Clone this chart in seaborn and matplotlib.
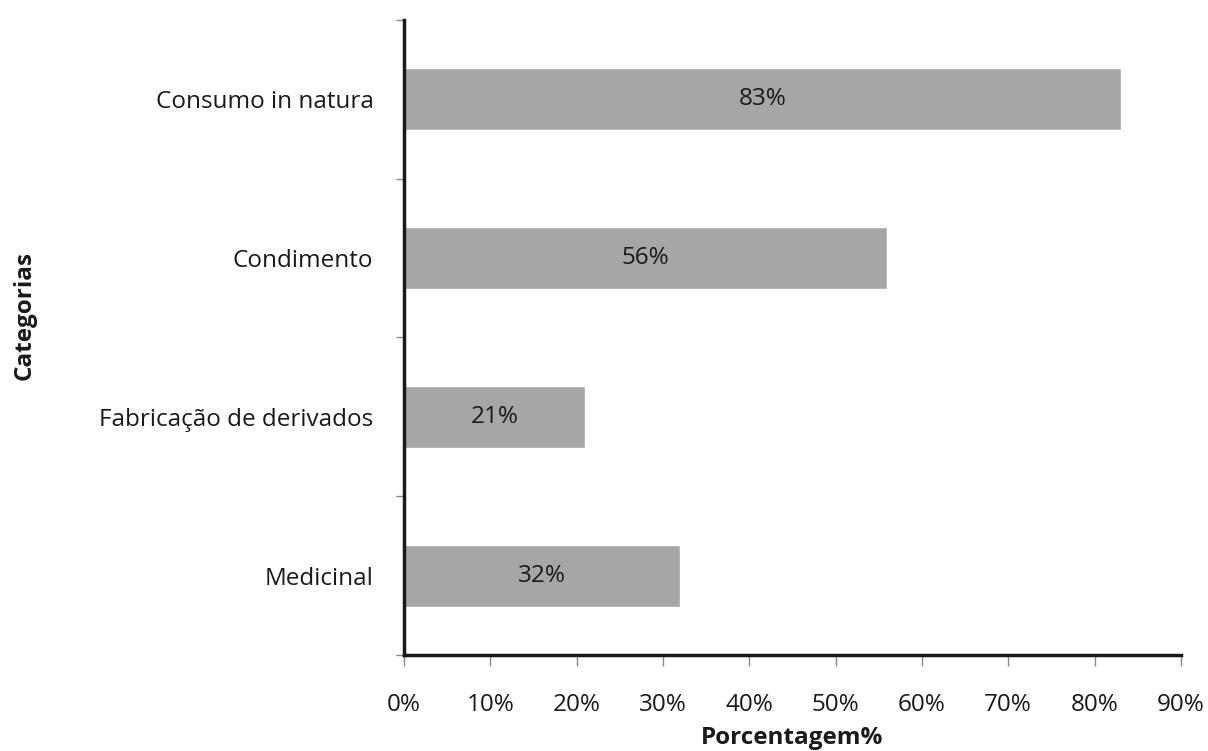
import pandas as pd
import seaborn as sns
import matplotlib.pyplot as plt
from matplotlib.ticker import FixedLocator, PercentFormatter

categorias = ["Consumo in natura", "Condimento", "Fabricação de derivados", "Medicinal"]
porcentagem = [83, 56, 21, 32]
rotulos = ["83%", "56%", "21%", "32%"]

df = pd.DataFrame({"categoria": categorias, "pct": porcentagem})

sns.set_style("white")
plt.rcParams['font.family'] = ['Open Sans', 'DejaVu Sans']

fig = plt.figure(figsize=(12.08, 7.51), dpi=100)
ax = fig.add_axes([0.3344, 0.1278, 0.6432, 0.8456])

sns.barplot(data=df, y="categoria", x="pct", orient="h", color="#a6a6a6",
            width=0.39, saturation=1, ax=ax)

for i, (v, t) in enumerate(zip(porcentagem, rotulos)):
    ax.text(v / 2, i, t, ha="center", va="center", fontsize=17.5, color="#1a1a1a")

ax.set_xlim(0, 90)
ax.set_ylim(3.5, -0.5)
ax.set_xticks(range(0, 91, 10))
ax.xaxis.set_major_formatter(PercentFormatter(decimals=0))
ax.tick_params(axis="x", direction="out", length=8, width=1, color="#888888",
               labelsize=17.5, pad=19, bottom=True, labelcolor="#1a1a1a")
ax.tick_params(axis="y", which="major", length=0, labelsize=17.5, pad=22,
               labelcolor="#1a1a1a")
ax.yaxis.set_minor_locator(FixedLocator([-0.5, 0.5, 1.5, 2.5, 3.5]))
ax.tick_params(axis="y", which="minor", direction="out", length=6, width=1,
               color="#888888", left=True)

for s in ["top", "right"]:
    ax.spines[s].set_visible(False)
for s in ["left", "bottom"]:
    ax.spines[s].set_linewidth(2.5)
    ax.spines[s].set_color("#1a1a1a")

ax.set_xlabel("Porcentagem%", fontsize=17.5, fontweight="bold", color="#1a1a1a")
ax.xaxis.set_label_coords(0.5, -0.130)
ax.xaxis.label.set_verticalalignment("center")
ax.set_ylabel("Categorias", fontsize=17.5, fontweight="bold", color="#1a1a1a")
ax.yaxis.set_label_coords(-0.488, 0.534)
ax.yaxis.label.set_verticalalignment("center")

fig.savefig("out.png", dpi=100)
